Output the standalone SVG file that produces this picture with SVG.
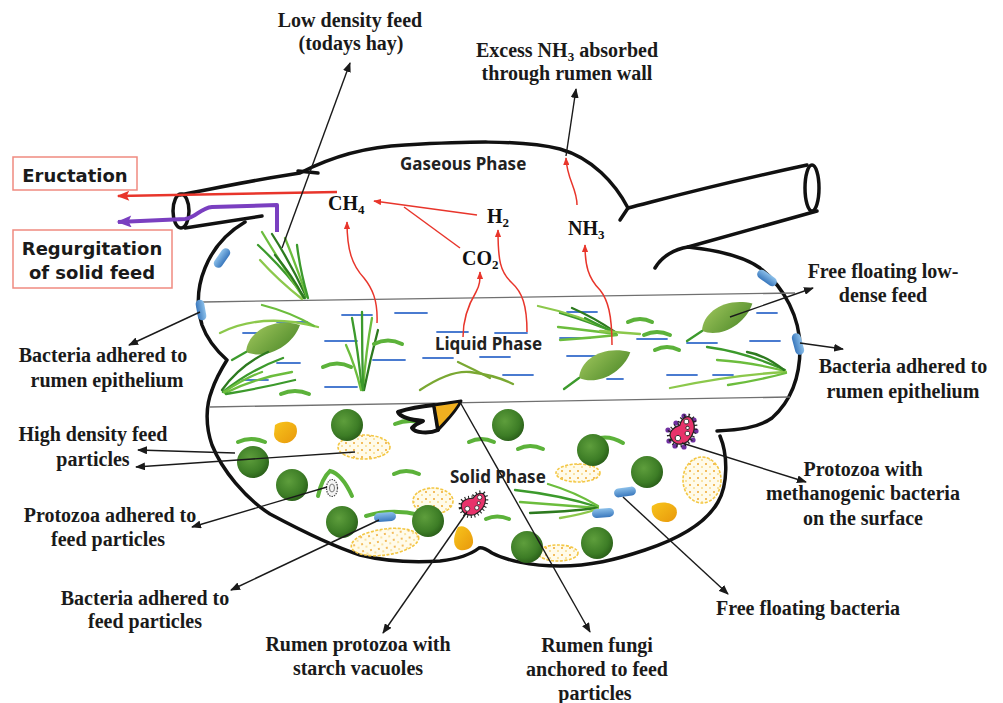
<svg xmlns="http://www.w3.org/2000/svg" width="1003" height="703" viewBox="0 0 1003 703">
  <style>
    .wall { fill: none; stroke: #111; stroke-width: 3.5; stroke-linecap: round; stroke-linejoin: round; }
    .phase-line { stroke: #707070; stroke-width: 1.3; fill: none; }
    .water { stroke: #4a7bd0; stroke-width: 1.8; stroke-linecap: round; }
    .grass path { fill: none; stroke-width: 2.3; stroke-linecap: round; }
    .g1 { stroke: #3c9a2c; } .g2 { stroke: #6cbd3d; } .g3 { stroke: #2d7a1f; } .g4 { stroke: #8cc84b; }
    .strand { fill: none; stroke: #5cb23a; stroke-width: 4; stroke-linecap: round; }
    .ball { fill: url(#ballGrad); }
    .corn { fill: url(#cornGrad); }
    .starch { fill: url(#starchDots); stroke: #f3c744; stroke-width: 1.6; stroke-dasharray: 3 1.5; }
    .leader { fill: none; stroke: #1a1a1a; stroke-width: 1.4; marker-end: url(#ah); }
    .gasflow { fill: none; stroke: #e8352b; stroke-width: 1.5; marker-end: url(#ahRed); }
    .lbl { font-family: "Liberation Serif", "Times New Roman", serif; font-weight: bold; font-size: 20px; fill: #1a1a1a; text-anchor: middle; }
    .gas { font-family: "Liberation Serif", "Times New Roman", serif; font-weight: bold; font-size: 20px; fill: #111; }
    .phase { font-family: "Noto Sans", "Liberation Sans", sans-serif; font-weight: bold; font-size: 17px; fill: #222; }
    .boxtxt { font-family: "DejaVu Sans", "Liberation Sans", sans-serif; font-weight: bold; font-size: 18px; fill: #1a1a1a; text-anchor: middle; }
    .box { fill: #fff; stroke: #f08a80; stroke-width: 1.5; }
  </style>
  <defs>
    <marker id="ah" viewBox="0 0 10 8" refX="9" refY="4" markerWidth="10" markerHeight="8" markerUnits="userSpaceOnUse" orient="auto">
      <path d="M0,0 L10,4 L0,8 Z" fill="#1a1a1a"/>
    </marker>
    <marker id="ahRed" viewBox="0 0 10 8" refX="9" refY="4" markerWidth="8" markerHeight="6.4" markerUnits="userSpaceOnUse" orient="auto">
      <path d="M0,0 L10,4 L0,8 Z" fill="#e8352b"/>
    </marker>
    <marker id="ahRedBig" viewBox="0 0 10 8" refX="9" refY="4" markerWidth="14" markerHeight="10" markerUnits="userSpaceOnUse" orient="auto">
      <path d="M0,0 L10,4 L0,8 L2,4 Z" fill="#e8352b"/>
    </marker>
    <marker id="ahPurple" viewBox="0 0 10 8" refX="9" refY="4" markerWidth="16" markerHeight="12" markerUnits="userSpaceOnUse" orient="auto">
      <path d="M0,0 L10,4 L0,8 L2,4 Z" fill="#7a3fc0"/>
    </marker>
    <radialGradient id="ballGrad" cx="0.4" cy="0.38" r="0.65">
      <stop offset="0" stop-color="#5e9e3c"/>
      <stop offset="0.7" stop-color="#3d7d26"/>
      <stop offset="1" stop-color="#2a5f19"/>
    </radialGradient>
    <linearGradient id="cornGrad" x1="0" y1="0" x2="1" y2="1">
      <stop offset="0" stop-color="#f8c51c"/>
      <stop offset="1" stop-color="#e8980c"/>
    </linearGradient>
    <linearGradient id="leafGrad" x1="0" y1="0" x2="1" y2="1">
      <stop offset="0" stop-color="#9cc45a"/>
      <stop offset="1" stop-color="#4f8a2a"/>
    </linearGradient>
    <linearGradient id="rodGrad" x1="0" y1="0" x2="0" y2="1">
      <stop offset="0" stop-color="#8cc0ea"/>
      <stop offset="1" stop-color="#3a78bd"/>
    </linearGradient>
    <pattern id="starchDots" width="8" height="7" patternUnits="userSpaceOnUse">
      <rect width="8" height="7" fill="#fffbea"/>
      <circle cx="2" cy="2" r="1" fill="#f0a830"/>
      <circle cx="6" cy="5" r="0.8" fill="#f5c242"/>
    </pattern>
    <path id="leaf" d="M0,0 C8,-18 36,-24 60,-7 C46,10 16,15 0,0 Z"/>
    <rect id="rod" x="-11" y="-4.5" width="22" height="9" rx="4.5" fill="url(#rodGrad)"/>
    <g id="protozoon">
      <path d="M-12,4 C-14,-4 -6,-6 0,-6 C4,-12 12,-14 13,-6 C14,2 8,8 2,11 C-4,13 -11,11 -12,4 Z" fill="none" stroke="#222" stroke-width="6" stroke-dasharray="1 2.4"/>
      <path d="M-12,4 C-14,-4 -6,-6 0,-6 C4,-12 12,-14 13,-6 C14,2 8,8 2,11 C-4,13 -11,11 -12,4 Z" fill="#e8336b" stroke="#222" stroke-width="1.2"/>
      <circle cx="-6" cy="5" r="2.6" fill="#fff" stroke="#222" stroke-width="0.8"/>
      <circle cx="4" cy="4" r="2.2" fill="#fff" stroke="#222" stroke-width="0.8"/>
      <circle cx="7" cy="-7" r="2.3" fill="#fff" stroke="#222" stroke-width="0.8"/>
      <circle cx="6" cy="-1" r="1.6" fill="#fff" stroke="#222" stroke-width="0.8"/>
    </g>
  </defs>

  <rect width="1003" height="703" fill="#fff"/>

  <!-- rumen wall with oesophagus and omasal tube -->
  <g id="rumen-outline">
    <path class="wall" d="M180,195 C215,188 265,178 300,173 C325,160 360,147 405,145 C460,142 520,139 560,149 C592,158 615,183 628,208 C660,200 700,188 807,165"/>
    <path class="wall" d="M628,208 L620,220"/>
    <path class="wall" d="M298,171 L318,173" stroke-width="2"/>
    <ellipse class="wall" cx="812" cy="188" rx="7" ry="23" stroke-width="2.5"/>
    <path class="wall" d="M817,211 L688,247" stroke-width="2.8"/>
    <path class="wall" d="M655,268 C662,256 675,249 688,247 C715,250 742,255 760,268 C785,288 800,318 800,348 C800,378 790,402 772,418 C758,428 738,430 717,431"/>
    <path class="wall" d="M720,436 C728,455 728,485 718,502 C705,525 675,540 645,550 C615,560 590,566 560,566 C530,566 505,560 492,553 C486,549 482,547 479,548 C474,552 465,558 440,561 C410,563 380,560 360,555 C335,547 300,530 270,514 C245,498 222,470 212,445 C205,425 206,405 212,390 C216,378 222,368 227,360 C218,352 208,342 202,325 C196,305 198,285 205,268 C213,248 228,232 245,222"/>
    <ellipse class="wall" cx="181" cy="211" rx="8" ry="17" stroke-width="2.5"/>
    <path class="wall" d="M185,228 L262,216" stroke-width="2.8"/>
  </g>

  <!-- boundaries between gas, liquid and solid layers -->
  <g id="phase-lines">
    <path class="phase-line" d="M203,302 L795,293"/>
    <path class="phase-line" d="M210,407 L790,397"/>
  </g>

  <!-- liquid phase ripples -->
  <g id="liquid-ripples">
    <path class="water" d="M277,322 H307 M243,333 H257 M342,315 H372 M395,313 H427 M325,341 H357 M437,332 H468 M495,333 H527 M373,360 H405 M423,358 H453 M480,357 H510 M277,363 H300 M243,380 H268 M325,387 H357 M503,375 H533 M560,338 H590 M567,312 H597 M567,356 H597 M637,339 H667 M687,343 H717 M750,341 H780 M757,313 H777 M607,379 H623 M667,375 H697 M713,375 H733"/>
  </g>

  <!-- forage: grass clumps and leaves -->
  <g id="forage" class="grass">
    <path class="g1" d="M305,298 Q285,270 258,245"/>
    <path class="g2" d="M303,297 Q280,262 262,232"/>
    <path class="g3" d="M306,296 Q290,262 272,234"/>
    <path class="g2" d="M307,297 Q296,265 285,238"/>
    <path class="g1" d="M308,298 Q300,270 297,245"/>
    <path class="g4" d="M302,299 Q278,280 260,260"/>
    <path class="g3" d="M304,298 Q292,275 275,255"/>

    <path class="g4" d="M220,333 Q262,312 318,327" stroke-width="2"/>
    <path class="g2" d="M262,305 Q290,312 314,326" stroke-width="1.5"/>
    <use href="#leaf" fill="url(#leafGrad)" transform="translate(246,352) rotate(-20) scale(1.0)"/>
    <path class="g1" d="M246,352 L232,360" stroke-width="1.5"/>
    <path class="g1" d="M223,392 Q250,370 283,358"/>
    <path class="g2" d="M225,393 Q255,378 292,372"/>
    <path class="g3" d="M222,390 Q240,365 268,352"/>
    <path class="g2" d="M224,392 Q245,378 262,372"/>
    <path class="g1" d="M226,394 Q262,388 295,380"/>

    <path class="g1" d="M362,390 Q358,350 352,318"/>
    <path class="g2" d="M363,390 Q366,350 372,318"/>
    <path class="g3" d="M364,390 Q370,360 378,330"/>
    <path class="g2" d="M361,390 Q355,365 346,345"/>
    <path class="g1" d="M363,390 Q362,350 362,312"/>

    <path d="M420,390 Q450,370 470,372 Q495,375 513,384" stroke="#7aa832" stroke-width="2.6"/>
    <path d="M458,362 Q475,370 490,378" stroke="#7aa832" stroke-width="2"/>

    <path class="g1" d="M616,333 Q590,322 560,313"/>
    <path class="g2" d="M616,334 Q585,330 558,327"/>
    <path class="g3" d="M615,332 Q595,318 572,308"/>
    <path class="g2" d="M617,335 Q590,338 560,340"/>
    <path class="g4" d="M614,332 Q580,315 538,306"/>
    <path class="g1" d="M616,333 Q600,326 585,318"/>
    <path class="g4" d="M600,331 L640,334" stroke-width="1.3"/>

    <use href="#leaf" fill="url(#leafGrad)" transform="translate(702,331) rotate(-22) scale(0.95)"/>
    <path class="g1" d="M702,331 L687,341" stroke-width="1.5"/>
    <use href="#leaf" fill="url(#leafGrad)" transform="translate(579,378) rotate(-20) scale(0.95)"/>
    <path class="g1" d="M579,378 L564,389" stroke-width="1.5"/>

    <path class="g1" d="M785,370 Q745,352 707,347"/>
    <path class="g2" d="M785,371 Q750,362 717,360"/>
    <path class="g4" d="M786,372 Q730,375 670,388"/>
    <path class="g3" d="M784,370 Q765,355 747,352"/>
    <path class="g2" d="M786,373 Q760,380 728,385"/>

    <path class="g1" d="M598,507 Q560,495 515,490"/>
    <path class="g2" d="M598,508 Q560,505 520,502"/>
    <path class="g3" d="M597,508 Q565,512 530,513"/>
    <path class="g2" d="M598,506 Q575,492 548,484"/>
    <path class="g4" d="M598,509 Q580,515 560,518"/>
  </g>

  <!-- bacterial chains -->
  <g id="strands">
    <path class="strand" d="M374,344 Q388,337 402,344"/>
    <path class="strand" d="M323,367 Q337,360 351,367"/>
    <path class="strand" d="M281,394 Q295,388 309,394"/>
    <path class="strand" d="M628,322 Q640,316 652,322"/>
    <path class="strand" d="M644,335 Q657,329 670,335"/>
    <path class="strand" d="M655,350 Q667,344 679,350"/>
    <path class="strand" d="M238,442 Q251,436 265,442"/>
    <path class="strand" d="M394,474 Q406,468 419,474"/>
    <path class="strand" d="M469,442 Q481,436 494,442"/>
    <path class="strand" d="M518,449 Q530,443 543,449"/>
    <path class="strand" d="M366,516 Q392,508 420,515"/>
    <path class="strand" d="M486,519 Q497,514 509,519"/>
    <path class="strand" d="M318,496 Q322,478 330,471 Q342,474 352,496"/>
    <path class="strand" d="M395,424 Q407,419 420,422"/>
    <path class="strand" d="M600,438 Q611,436 623,443"/>
  </g>

  <!-- solid phase particles -->
  <g id="particles">
    <ellipse class="starch" cx="364" cy="447" rx="26" ry="12"/>
    <ellipse class="starch" cx="578" cy="473" rx="22" ry="9"/>
    <ellipse class="starch" cx="433" cy="501" rx="20" ry="13"/>
    <ellipse class="starch" cx="385" cy="542" rx="34" ry="13" transform="rotate(-8 385 542)"/>
    <ellipse class="starch" cx="558" cy="553" rx="20" ry="8"/>
    <ellipse class="starch" cx="702" cy="480" rx="19" ry="23"/>
    <path class="corn" d="M275,425 C282,420 293,421 296,426 C299,433 295,441 287,443 C280,444 274,440 274,434 Z"/>
    <path class="corn" d="M458,527 C466,524 472,532 473,540 C474,548 467,551 460,550 C453,548 452,538 458,527 Z"/>
    <path class="corn" d="M652,506 C660,500 672,502 676,508 C679,515 674,522 666,522 C657,522 650,515 652,506 Z"/>
    <circle class="ball" cx="347" cy="425" r="16"/>
    <circle class="ball" cx="253" cy="462" r="16"/>
    <circle class="ball" cx="292" cy="485" r="16"/>
    <circle class="ball" cx="342" cy="522" r="16"/>
    <circle class="ball" cx="428" cy="521" r="16"/>
    <circle class="ball" cx="508" cy="425" r="16"/>
    <circle class="ball" cx="593" cy="450" r="16"/>
    <circle class="ball" cx="647" cy="472" r="16"/>
    <circle class="ball" cx="527" cy="547" r="16"/>
    <circle class="ball" cx="597" cy="543" r="16"/>
  </g>

  <!-- microbes -->
  <g id="microbes">
    <use href="#rod" transform="translate(222,258) rotate(-55)"/>
    <use href="#rod" transform="translate(201,310) rotate(80) scale(0.95)"/>
    <use href="#rod" transform="translate(767,278) rotate(35)"/>
    <use href="#rod" transform="translate(798,344) rotate(75)"/>
    <use href="#rod" transform="translate(385,517) rotate(-5)"/>
    <use href="#rod" transform="translate(625,492) rotate(-8)"/>
    <use href="#rod" transform="translate(603,513) rotate(-5)"/>
    <g id="adhered-protozoon">
      <ellipse cx="332" cy="488" rx="5.5" ry="8.5" fill="#f4f4f4" stroke="#444" stroke-width="1.2" stroke-dasharray="1.5 1"/>
      <ellipse cx="332" cy="488" rx="2.5" ry="4" fill="none" stroke="#666" stroke-width="0.9"/>
    </g>
    <use href="#protozoon" transform="translate(473,504) scale(0.95)"/>
    <g id="methanogen-protozoon">
      <g fill="#7030a0">
        <circle cx="669" cy="441" r="2.6"/><circle cx="675" cy="446" r="2.6"/><circle cx="684" cy="447" r="2.6"/>
        <circle cx="693" cy="440" r="2.6"/><circle cx="696" cy="431" r="2.6"/><circle cx="694" cy="420" r="2.6"/>
        <circle cx="684" cy="416" r="2.6"/><circle cx="676" cy="423" r="2.6"/><circle cx="668" cy="430" r="2.6"/>
      </g>
      <use href="#protozoon" transform="translate(682,431) rotate(-20) scale(1.05)"/>
    </g>
    <g id="fungus">
      <path d="M398,412 C410,408 423,406 434,405 L438,430 C429,434 415,433 412,428 C416,424 420,422 423,421 C412,420 401,418 398,412 Z" fill="#fff" stroke="#111" stroke-width="4" stroke-linejoin="round"/>
      <path d="M434,405 L461,401 C456,412 446,421 438,430 C437,421 435,413 434,405 Z" fill="#f0b020" stroke="#111" stroke-width="3" stroke-linejoin="round"/>
    </g>
  </g>

  <!-- gas names and flows -->
  <g id="gases">
    <text class="gas" x="328" y="210">CH<tspan font-size="13" dy="4">4</tspan></text>
    <text class="gas" x="487" y="223">H<tspan font-size="13" dy="4">2</tspan></text>
    <text class="gas" x="462" y="265">CO<tspan font-size="13" dy="4">2</tspan></text>
    <text class="gas" x="568" y="235">NH<tspan font-size="13" dy="4">3</tspan></text>
  </g>

  <g id="phase-names">
    <text class="phase" x="400" y="170">Gaseous Phase</text>
    <text class="phase" x="435" y="350">Liquid Phase</text>
    <text class="phase" x="450" y="483">Solid Phase</text>
  </g>

  <g id="connectors">
    <path d="M337,192 L118,196" fill="none" stroke="#e8352b" stroke-width="2.6" marker-end="url(#ahRedBig)"/>
    <path d="M277,232 L277,205 L212,207 C200,208 196,218 185,219 L118,222" fill="none" stroke="#7a3fc0" stroke-width="4" stroke-linejoin="round" marker-end="url(#ahPurple)"/>
    <path class="gasflow" d="M477,215 L374,201"/>
    <path d="M460,248 L404,207" fill="none" stroke="#e8352b" stroke-width="1.5"/>
    <path class="gasflow" d="M377,323 C378,300 372,288 364,278 C352,265 347,250 347,222"/>
    <path class="gasflow" d="M463,337 C463,318 470,302 476,292 C480,285 480,280 480,272"/>
    <path class="gasflow" d="M527,332 C527,305 522,292 512,283 C500,272 498,260 498,230"/>
    <path class="gasflow" d="M612,345 C612,315 608,300 600,290 C588,278 585,265 585,245"/>
    <path class="gasflow" d="M577,205 C577,188 567,180 566,158"/>

    <path class="leader" d="M282,248 L350,63"/>
    <path class="leader" d="M566,156 L576,89"/>
    <path class="leader" d="M730,317 L813,288"/>
    <path class="leader" d="M800,343 L843,349"/>
    <path class="leader" d="M200,312 L129,345"/>
    <path class="leader" d="M235,453 L138,450"/>
    <path class="leader" d="M355,452 L136,467"/>
    <path class="leader" d="M327,487 L192,527"/>
    <path class="leader" d="M379,520 L231,590"/>
    <path class="leader" d="M467,512 L383,633"/>
    <path class="leader" d="M460,402 L590,632"/>
    <path class="leader" d="M682,443 L806,482"/>
    <path class="leader" d="M623,497 L728,594"/>
  </g>

  <!-- callouts -->
  <g id="eructation">
    <rect class="box" x="13" y="157" width="124" height="33"/>
    <text class="boxtxt" x="75" y="182">Eructation</text>
  </g>
  <g id="regurgitation">
    <rect class="box" x="13" y="230" width="159" height="58"/>
    <text class="boxtxt" x="92" y="255">Regurgitation</text>
    <text class="boxtxt" x="92" y="279">of solid feed</text>
  </g>
  <g id="low-density-feed">
    <text class="lbl" x="350" y="27">Low density feed</text>
    <text class="lbl" x="351" y="50">(todays hay)</text>
  </g>
  <g id="excess-nh3">
    <text class="lbl" x="567" y="57">Excess NH<tspan font-size="13" dy="4">3</tspan><tspan dy="-4"> absorbed</tspan></text>
    <text class="lbl" x="567" y="80">through rumen wall</text>
  </g>
  <g id="free-floating-feed">
    <text class="lbl" x="883" y="278">Free floating low-</text>
    <text class="lbl" x="883" y="302">dense feed</text>
  </g>
  <g id="bacteria-epithelium-right">
    <text class="lbl" x="903" y="373">Bacteria adhered to</text>
    <text class="lbl" x="903" y="398">rumen epithelium</text>
  </g>
  <g id="bacteria-epithelium-left">
    <text class="lbl" x="103" y="362">Bacteria adhered to</text>
    <text class="lbl" x="107" y="387">rumen epithelium</text>
  </g>
  <g id="high-density-feed">
    <text class="lbl" x="93" y="441">High density feed</text>
    <text class="lbl" x="93" y="466">particles</text>
  </g>
  <g id="protozoa-adhered">
    <text class="lbl" x="110" y="522">Protozoa adhered to</text>
    <text class="lbl" x="108" y="546">feed particles</text>
  </g>
  <g id="bacteria-adhered-feed">
    <text class="lbl" x="145" y="605">Bacteria adhered to</text>
    <text class="lbl" x="145" y="628">feed particles</text>
  </g>
  <g id="starch-protozoa">
    <text class="lbl" x="358" y="651">Rumen protozoa with</text>
    <text class="lbl" x="358" y="675">starch vacuoles</text>
  </g>
  <g id="rumen-fungi">
    <text class="lbl" x="597" y="652">Rumen fungi</text>
    <text class="lbl" x="597" y="676">anchored to feed</text>
    <text class="lbl" x="595" y="700">particles</text>
  </g>
  <g id="methanogen-label">
    <text class="lbl" x="863" y="476">Protozoa with</text>
    <text class="lbl" x="863" y="500">methanogenic bacteria</text>
    <text class="lbl" x="863" y="525">on the surface</text>
  </g>
  <g id="free-bacteria">
    <text class="lbl" x="808" y="615">Free floating bacteria</text>
  </g>
</svg>
